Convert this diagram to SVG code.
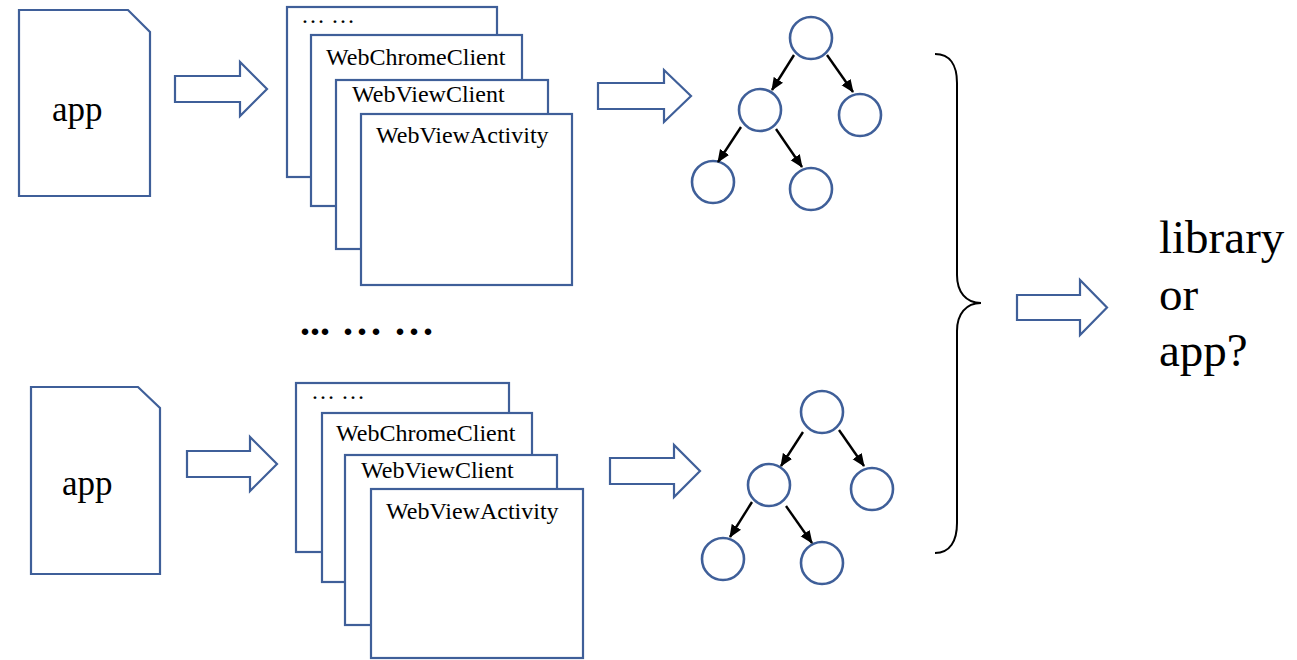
<svg xmlns="http://www.w3.org/2000/svg" width="1297" height="660" viewBox="0 0 1297 660">
  <style>
    .shape { fill: #ffffff; stroke: #3f5f99; stroke-width: 2.2; stroke-linejoin: miter; }
    .node { fill: #ffffff; stroke: #3f5f99; stroke-width: 2.6; }
    .edge { stroke: #000000; stroke-width: 2.4; fill: none; }
    .brace { stroke: #000000; stroke-width: 2; fill: none; }
    text { fill: #000000; }
    .win { font-size: 24px; }
    .doc { font-size: 35px; }
    .big { font-size: 47px; }
    .dots { font-size: 40px; font-weight: bold; }
  </style>
  <defs>
    <marker id="head" markerUnits="userSpaceOnUse" markerWidth="14" markerHeight="12" refX="12" refY="5.5" orient="auto">
      <path d="M0,0 L13,5.5 L0,11 z" fill="#000000"/>
    </marker>
  </defs>

  <rect width="1297" height="660" fill="#ffffff"/>

  <g font-family="'Liberation Serif', 'DejaVu Serif', 'Times New Roman', serif">

  <!-- upper row: app file -->
  <g id="app-top">
    <polygon class="shape" points="19,10 128,10 150,32 150,196 19,196"/>
    <text class="doc" x="52" y="121">app</text>
  </g>

  <!-- upper row: stacked component windows -->
  <g id="components-top">
    <rect class="shape" x="287" y="7" width="210" height="170"/>
    <text class="win" x="301" y="23">… …</text>
    <rect class="shape" x="311" y="35" width="211" height="171"/>
    <text class="win" x="326" y="65">WebChromeClient</text>
    <rect class="shape" x="336" y="80" width="212" height="169"/>
    <text class="win" x="352" y="102">WebViewClient</text>
    <rect class="shape" x="361" y="114" width="211" height="171"/>
    <text class="win" x="376" y="143">WebViewActivity</text>
  </g>

  <!-- upper row: tree -->
  <g id="tree-top">
    <circle class="node" cx="811" cy="38" r="21"/>
    <circle class="node" cx="760" cy="110" r="21"/>
    <circle class="node" cx="860" cy="115" r="21"/>
    <circle class="node" cx="713" cy="182" r="21"/>
    <circle class="node" cx="811" cy="189" r="21"/>
  </g>

  <!-- lower row: app file -->
  <g id="app-bottom">
    <polygon class="shape" points="31,387 138,387 160,408 160,574 31,574"/>
    <text class="doc" x="62" y="495">app</text>
  </g>

  <!-- lower row: stacked component windows -->
  <g id="components-bottom">
    <rect class="shape" x="296" y="383" width="213" height="169"/>
    <text class="win" x="311" y="399">… …</text>
    <rect class="shape" x="322" y="413" width="210" height="169"/>
    <text class="win" x="336" y="441">WebChromeClient</text>
    <rect class="shape" x="345" y="455" width="212" height="170"/>
    <text class="win" x="361" y="478">WebViewClient</text>
    <rect class="shape" x="371" y="489" width="212" height="169"/>
    <text class="win" x="386" y="519">WebViewActivity</text>
  </g>

  <!-- lower row: tree -->
  <g id="tree-bottom">
    <circle class="node" cx="822" cy="412" r="21"/>
    <circle class="node" cx="769" cy="485" r="21"/>
    <circle class="node" cx="872" cy="489" r="21"/>
    <circle class="node" cx="723" cy="559" r="21"/>
    <circle class="node" cx="822" cy="563" r="21"/>
  </g>

  <!-- ellipsis between the two rows -->
  <g id="more-apps">
    <text class="dots" x="300 310 320 331 343 357 371 384 395 409 423" y="335">... ... ...</text>
  </g>

  <!-- result -->
  <g id="result">
    <text class="big" x="1159" y="253">library</text>
    <text class="big" x="1159" y="310">or</text>
    <text class="big" x="1159" y="366">app?</text>
  </g>

  </g>

  <!-- connectors -->
  <g id="connectors">
    <!-- block arrows -->
    <polygon class="shape" points="175,76 240,76 240,62 267,89 240,116 240,102 175,102"/>
    <polygon class="shape" points="598,83 664,83 664,70 691,96 664,122 664,109 598,109"/>
    <polygon class="shape" points="187,451 250,451 250,437 277,464 250,491 250,477 187,477"/>
    <polygon class="shape" points="610,458 674,458 674,445 700,471 674,497 674,484 610,484"/>
    <polygon class="shape" points="1017,295 1080,295 1080,280 1107,307.5 1080,335 1080,320 1017,320"/>

    <!-- upper tree edges -->
    <line class="edge" x1="794" y1="55" x2="772" y2="90" marker-end="url(#head)"/>
    <line class="edge" x1="827" y1="55" x2="853" y2="92" marker-end="url(#head)"/>
    <line class="edge" x1="741" y1="127" x2="718" y2="162" marker-end="url(#head)"/>
    <line class="edge" x1="776" y1="129" x2="802" y2="167" marker-end="url(#head)"/>

    <!-- lower tree edges -->
    <line class="edge" x1="803" y1="432" x2="781" y2="466" marker-end="url(#head)"/>
    <line class="edge" x1="839" y1="430" x2="864" y2="466" marker-end="url(#head)"/>
    <line class="edge" x1="752" y1="502" x2="730" y2="537" marker-end="url(#head)"/>
    <line class="edge" x1="786" y1="506" x2="812" y2="543" marker-end="url(#head)"/>

    <!-- brace gathering both rows -->
    <path class="brace" d="M935,54 C950,54 957,65 957,83 L957,275 C957,292 966,303 981,303 C966,303 957,314 957,331 L957,523 C957,541 950,553 935,553"/>
  </g>
</svg>
